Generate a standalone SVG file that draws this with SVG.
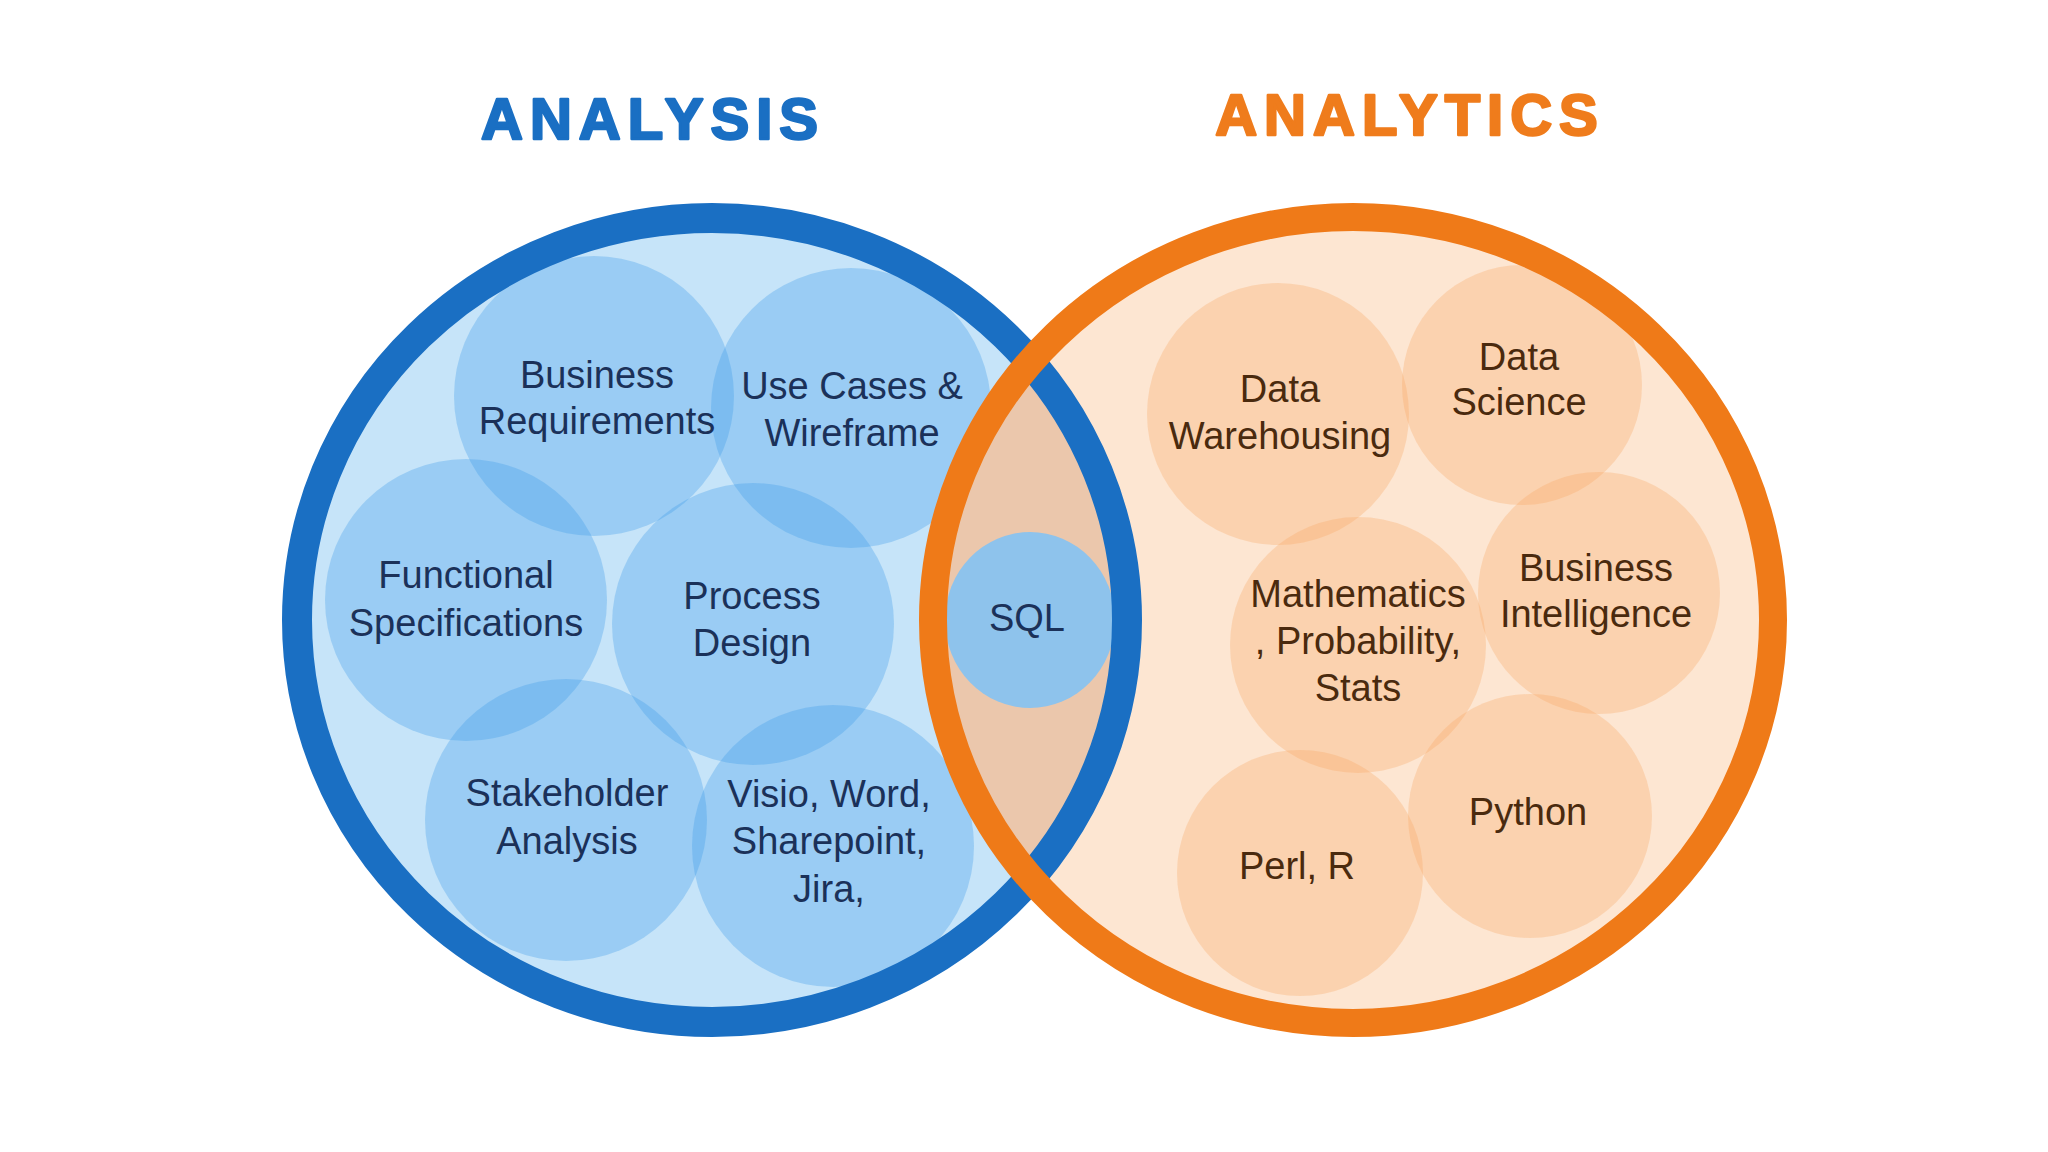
<svg xmlns="http://www.w3.org/2000/svg" width="2048" height="1152" viewBox="0 0 2048 1152">
<style>
.title{font-family:"Liberation Sans",Arial,sans-serif;font-weight:bold;font-size:58px;letter-spacing:7px;text-anchor:middle;stroke-width:2.5px;stroke-linejoin:round}
.bt{font-family:"Liberation Sans",Arial,sans-serif;font-size:38px;fill:#1b3159;text-anchor:middle}
.ot{font-family:"Liberation Sans",Arial,sans-serif;font-size:38px;fill:#4a2a0e;text-anchor:middle}
.bc{fill:#3f9cea;fill-opacity:0.32}
.oc{fill:#f7a45f;fill-opacity:0.3}
</style>
<defs>
<clipPath id="blueClip"><ellipse cx="712" cy="620" rx="415" ry="402"/></clipPath>
</defs>
<rect width="2048" height="1152" fill="#ffffff"/>
<text class="title" x="653" y="139" fill="#1a6fc3" stroke="#1a6fc3">ANALYSIS</text>
<text class="title" x="1410" y="135" fill="#ef7c1c" stroke="#ef7c1c">ANALYTICS</text>

<g id="analysis-area">
<ellipse cx="712" cy="620" rx="415" ry="402" fill="#c6e4f9"/>
</g>
<g id="business-requirements"><circle class="bc" cx="594" cy="396" r="140"/></g>
<g id="use-cases"><circle class="bc" cx="851" cy="408" r="140"/></g>
<g id="functional-specifications"><circle class="bc" cx="466" cy="600" r="141"/></g>
<g id="process-design"><circle class="bc" cx="753" cy="624" r="141"/></g>
<g id="stakeholder-analysis"><circle class="bc" cx="566" cy="820" r="141"/></g>
<g id="visio-word"><circle class="bc" cx="833" cy="846" r="141"/></g>

<g id="analytics-area">
<ellipse cx="1353" cy="620" rx="420" ry="403" fill="#fde6d2"/>
<ellipse cx="1353" cy="620" rx="420" ry="403" fill="#ebc7ac" clip-path="url(#blueClip)"/>
</g>
<g id="data-warehousing"><circle class="oc" cx="1278" cy="414" r="131"/></g>
<g id="data-science"><circle class="oc" cx="1522" cy="385" r="120"/></g>
<g id="mathematics"><circle class="oc" cx="1358" cy="645" r="128"/></g>
<g id="business-intelligence"><circle class="oc" cx="1599" cy="593" r="121"/></g>
<g id="python"><circle class="oc" cx="1530" cy="816" r="122"/></g>
<g id="perl-r"><circle class="oc" cx="1300" cy="873" r="123"/></g>
<g id="sql"><ellipse cx="1030" cy="620" rx="85" ry="88" fill="#8ec3ec"/></g>

<g id="rings">
<ellipse cx="712" cy="620" rx="415" ry="402" fill="none" stroke="#1a6fc3" stroke-width="30"/>
<ellipse cx="1353" cy="620" rx="420" ry="403" fill="none" stroke="#ef7a18" stroke-width="28"/>
</g>

<g id="labels">
<text class="bt" x="597" y="388">Business</text>
<text class="bt" x="597" y="434">Requirements</text>
<text class="bt" x="852" y="399">Use Cases &amp;</text>
<text class="bt" x="852" y="446">Wireframe</text>
<text class="bt" x="466" y="588">Functional</text>
<text class="bt" x="466" y="636">Specifications</text>
<text class="bt" x="752" y="609">Process</text>
<text class="bt" x="752" y="656">Design</text>
<text class="bt" x="1027" y="631">SQL</text>
<text class="bt" x="567" y="806">Stakeholder</text>
<text class="bt" x="567" y="854">Analysis</text>
<text class="bt" x="829" y="807">Visio, Word,</text>
<text class="bt" x="829" y="854">Sharepoint,</text>
<text class="bt" x="829" y="902">Jira,</text>
<text class="ot" x="1280" y="402">Data</text>
<text class="ot" x="1280" y="449">Warehousing</text>
<text class="ot" x="1519" y="370">Data</text>
<text class="ot" x="1519" y="415">Science</text>
<text class="ot" x="1358" y="607">Mathematics</text>
<text class="ot" x="1358" y="654">, Probability,</text>
<text class="ot" x="1358" y="701">Stats</text>
<text class="ot" x="1596" y="581">Business</text>
<text class="ot" x="1596" y="627">Intelligence</text>
<text class="ot" x="1528" y="825">Python</text>
<text class="ot" x="1297" y="879">Perl, R</text>
</g>
</svg>
